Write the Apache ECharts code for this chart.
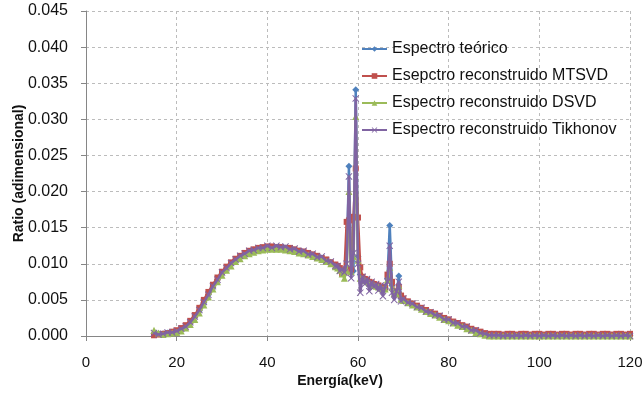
<!DOCTYPE html>
<html>
<head>
<meta charset="utf-8">
<script src="https://cdn.jsdelivr.net/npm/echarts@6/dist/echarts.min.js"></script>
<style>html,body{margin:0;padding:0;background:#fff}#c{width:644px;height:394px}</style>
</head>
<body>
<div id="c"></div>
<script>
const energies = [15,16,17,18,19,20,21,22,23,24,25,26,27,28,29,30,31,32,33,34,35,36,37,38,39,40,41,42,43,44,45,46,47,48,49,50,51,52,53,54,55,
55.5,56,56.5,57,57.5,58,58.5,59,59.5,60,60.5,61,61.5,62,62.5,63,63.5,64,64.5,65,65.5,66,66.5,67,67.5,68,68.5,69,69.5,70,
71,72,73,74,75,76,77,78,79,80,81,82,83,84,85,86,87,88,89,90,91,92,93,94,95,96,97,98,99,100,101,102,103,104,105,106,107,108,109,110,111,112,113,114,115,116,117,118,119,120];

const teorico = [.0003,.0003,.0003,.0004,.0005,.0006,.0009,.0013,.0018,.0026,
.0035,.0046,.0057,.0068,.0078,.0087,.0094,.0100,.0106,.0110,
.0114,.0117,.0119,.0121,.0122,.0123,.0123,.0123,.0123,.0122,
.0121,.0119,.0118,.0116,.0114,.0112,.0110,.0108,.0105,.0102,.0098,
.0096,.0093,.0090,.0092,.0095,.0235,.0088,.0090,.0341,.0110,
.0085,.0080,.0078,.0076,.0074,.0072,.0071,.0070,.0069,.0067,
.0066,.0066,.0080,.0153,.0070,.0060,.0059,.0083,.0052,.0050,
.0047,.0044,.0041,.0038,.0035,.0032,.0030,.0027,.0024,.0022,
.0019,.0017,.0014,.0012,.0009,.0007,.0005,.0003,.0001,.0001,
.0001,.0001,.0001,.0001,.0001,.0001,.0001,.0001,.0001,.0001,
.0001,.0001,.0001,.0001,.0001,.0001,.0001,.0001,.0001,.0001,
.0001,.0001,.0001,.0001,.0001,.0001,.0001,.0001,.0001,.0001];

const mtsvd = [.0001,.0002,.0003,.0004,.0006,.0008,.0011,.0015,.0021,.0029,
.0039,.0050,.0061,.0071,.0081,.0089,.0096,.0102,.0107,.0111,
.0115,.0118,.0120,.0122,.0123,.0124,.0124,.0123,.0123,.0122,
.0122,.0120,.0118,.0117,.0115,.0113,.0111,.0108,.0106,.0102,.0099,
.0097,.0094,.0086,.0088,.0158,.0160,.0092,.0165,.0232,.0164,
.0095,.0082,.0079,.0078,.0075,.0074,.0072,.0071,.0070,.0068,
.0068,.0067,.0085,.0100,.0075,.0062,.0060,.0068,.0056,.0052,
.0048,.0045,.0042,.0039,.0036,.0033,.0031,.0028,.0025,.0023,
.0020,.0018,.0015,.0013,.0010,.0008,.0006,.0004,.0003,.0003,
.0003,.0002,.0003,.0003,.0002,.0003,.0003,.0002,.0003,.0003,
.0002,.0003,.0003,.0002,.0003,.0003,.0002,.0003,.0003,.0002,
.0003,.0003,.0002,.0003,.0003,.0002,.0003,.0003,.0002,.0003];

const dsvd = [.0008,.0004,.0002,.0003,.0004,.0005,.0007,.0011,.0016,.0023,
.0032,.0043,.0054,.0065,.0075,.0084,.0091,.0097,.0103,.0107,
.0111,.0114,.0116,.0118,.0119,.0120,.0120,.0120,.0120,.0119,
.0118,.0117,.0115,.0114,.0112,.0110,.0108,.0106,.0103,.0100,.0096,
.0094,.0091,.0086,.0080,.0090,.0200,.0089,.0110,.0304,.0105,
.0080,.0079,.0077,.0075,.0073,.0071,.0070,.0069,.0068,.0066,
.0065,.0065,.0078,.0095,.0068,.0059,.0058,.0070,.0051,.0049,
.0046,.0043,.0040,.0037,.0034,.0031,.0029,.0026,.0023,.0021,
.0018,.0015,.0013,.0010,.0008,.0005,.0003,.0001,.0000,.0000,
.0000,.0000,.0000,.0000,.0000,.0000,.0000,.0000,.0000,.0000,
.0000,.0000,.0000,.0000,.0000,.0000,.0000,.0000,.0000,.0000,
.0000,.0000,.0000,.0000,.0000,.0000,.0000,.0000,.0000,.0000];

const tikhonov = [.0004,.0002,.0003,.0005,.0005,.0007,.0010,.0013,.0019,.0027,
.0036,.0047,.0057,.0069,.0078,.0088,.0094,.0101,.0106,.0111,
.0114,.0118,.0119,.0122,.0122,.0125,.0122,.0125,.0123,.0124,
.0120,.0121,.0117,.0118,.0113,.0114,.0109,.0110,.0104,.0103,.0097,
.0097,.0090,.0093,.0088,.0100,.0221,.0080,.0115,.0329,.0100,
.0060,.0082,.0072,.0079,.0062,.0075,.0068,.0072,.0063,.0070,
.0055,.0069,.0075,.0125,.0060,.0050,.0062,.0075,.0048,.0052,
.0046,.0045,.0040,.0039,.0034,.0033,.0029,.0028,.0023,.0023,
.0018,.0018,.0013,.0013,.0008,.0008,.0004,.0003,.0001,.0001,
.0001,.0000,.0001,.0000,.0001,.0000,.0001,.0000,.0001,.0000,
.0001,.0000,.0001,.0000,.0001,.0000,.0001,.0000,.0001,.0000,
.0001,.0000,.0001,.0000,.0001,.0000,.0001,.0000,.0001,.0000];

const seriesNames = ['Espectro teórico','Esepctro reconstruido MTSVD','Espectro reconstruido DSVD','Espectro reconstruido Tikhonov'];
const xTicks = {min:0, max:120, interval:20};
const yTicks = {min:0, max:0.045, interval:0.005};

const colors = ['#4F81BD','#C0504D','#9BBB59','#8064A2'];
const symbols = ['diamond','rect','triangle','path://M1,0L5,4L9,0L10,1L6,5L10,9L9,10L5,6L1,10L0,9L4,5L0,1Z'];
const sizes = [7,6,7,7];
const allVals = [teorico, mtsvd, dsvd, tikhonov];
const FONT = 'Liberation Sans';

const chart = echarts.init(document.getElementById('c'), null, {renderer:'canvas'});
chart.setOption({
  animation:false,
  backgroundColor:'#fff',
  textStyle:{fontFamily:FONT},
  grid:{left:86, right:14, top:11, bottom:58, containLabel:false, outerBoundsMode:'none'},
  legend:{
    orient:'vertical', left:356, top:36,
    itemWidth:25, itemHeight:7, itemGap:11,
    textStyle:{fontFamily:FONT, fontSize:16, color:'#111', lineHeight:16},
    data:seriesNames
  },
  xAxis:{
    type:'value', min:xTicks.min, max:xTicks.max, interval:xTicks.interval,
    name:'Energía(keV)', nameLocation:'middle', nameGap:38, nameMoveOverlap:false,
    nameTextStyle:{fontFamily:FONT, fontSize:14, fontWeight:'bold', color:'#111', padding:[0,36,0,0]},
    axisLine:{show:true, lineStyle:{color:'#868686', width:1}},
    axisTick:{show:true, length:5, lineStyle:{color:'#868686'}},
    axisLabel:{fontFamily:FONT, fontSize:15, color:'#111', margin:19},
    splitLine:{show:true, lineStyle:{color:'#bcbcbc', type:[3,3], width:1}}
  },
  yAxis:{
    type:'value', min:yTicks.min, max:yTicks.max, interval:yTicks.interval,
    name:'Ratio (adimensional)', nameLocation:'middle', nameGap:60, nameMoveOverlap:false,
    nameTextStyle:{fontFamily:FONT, fontSize:14, fontWeight:'bold', color:'#111'},
    axisLine:{show:true, lineStyle:{color:'#868686', width:1}},
    axisTick:{show:true, length:5, lineStyle:{color:'#868686'}},
    axisLabel:{fontFamily:FONT, fontSize:16, color:'#111', margin:18, formatter:v=>v.toFixed(3)},
    splitLine:{show:true, lineStyle:{color:'#bcbcbc', type:[3,3], width:1}}
  },
  series: seriesNames.map((n,k)=>({
    name:n, type:'line',
    data: energies.map((e,i)=>[e, allVals[k][i]]),
    symbol:symbols[k], symbolSize:sizes[k], showAllSymbol:true,
    itemStyle:{color:colors[k]},
    lineStyle:{color:colors[k], width:2.5},
    z:2+k
  }))
});
</script>
</body>
</html>
